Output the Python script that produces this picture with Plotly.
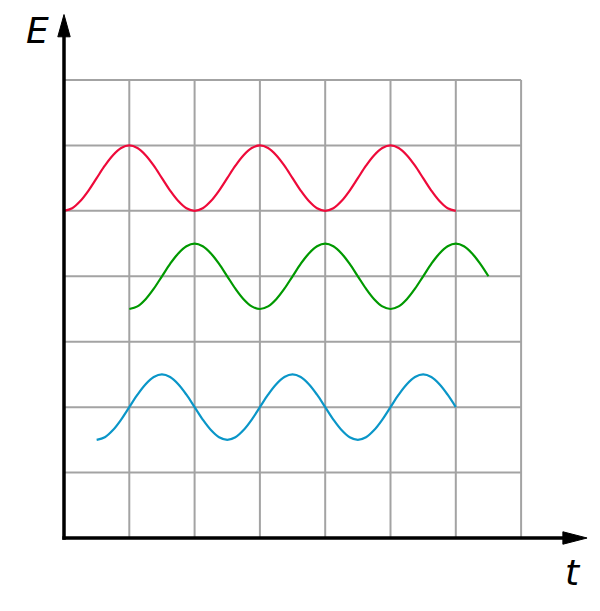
import plotly.graph_objects as go

# Data (grid units), values read every 1/8 of a grid cell
red_x = [i * 0.125 for i in range(0, 49)]
red_y = [5, 5.04, 5.15, 5.31, 5.5, 5.69, 5.85, 5.96, 6, 5.96, 5.85, 5.69, 5.5, 5.31, 5.15, 5.04,
         5, 5.04, 5.15, 5.31, 5.5, 5.69, 5.85, 5.96, 6, 5.96, 5.85, 5.69, 5.5, 5.31, 5.15, 5.04,
         5, 5.04, 5.15, 5.31, 5.5, 5.69, 5.85, 5.96, 6, 5.96, 5.85, 5.69, 5.5, 5.31, 5.15, 5.04,
         5]

green_x = [1 + i * 0.125 for i in range(0, 45)]
green_y = [3.5, 3.54, 3.65, 3.81, 4, 4.19, 4.35, 4.46, 4.5, 4.46, 4.35, 4.19, 4, 3.81, 3.65, 3.54,
           3.5, 3.54, 3.65, 3.81, 4, 4.19, 4.35, 4.46, 4.5, 4.46, 4.35, 4.19, 4, 3.81, 3.65, 3.54,
           3.5, 3.54, 3.65, 3.81, 4, 4.19, 4.35, 4.46, 4.5, 4.46, 4.35, 4.19, 4]

blue_x = [0.5 + i * 0.125 for i in range(0, 45)]
blue_y = [1.5, 1.54, 1.65, 1.81, 2, 2.19, 2.35, 2.46, 2.5, 2.46, 2.35, 2.19, 2, 1.81, 1.65, 1.54,
          1.5, 1.54, 1.65, 1.81, 2, 2.19, 2.35, 2.46, 2.5, 2.46, 2.35, 2.19, 2, 1.81, 1.65, 1.54,
          1.5, 1.54, 1.65, 1.81, 2, 2.19, 2.35, 2.46, 2.5, 2.46, 2.35, 2.19, 2]

grid_ticks = [0, 1, 2, 3, 4, 5, 6, 7]

fig = go.Figure()
for xs, ys, col in [(red_x, red_y, "#ee0a3a"), (green_x, green_y, "#009900"), (blue_x, blue_y, "#0a96c8")]:
    fig.add_trace(go.Scatter(x=xs, y=ys, mode="lines", line=dict(color=col, width=2.2, shape="spline"),
                             hoverinfo="skip", showlegend=False))

shapes = []
for g in grid_ticks:
    shapes.append(dict(type="line", xref="x", yref="y", x0=g, x1=g, y0=0, y1=7,
                       line=dict(color="#a3a3a3", width=2), layer="below"))
    shapes.append(dict(type="line", xref="x", yref="y", x0=0, x1=7, y0=g, y1=g,
                       line=dict(color="#a3a3a3", width=2), layer="below"))
# axes
shapes.append(dict(type="line", xref="x", yref="y", x0=-0.025, x1=7.7, y0=0, y1=0,
                   line=dict(color="black", width=3.5)))
shapes.append(dict(type="line", xref="x", yref="y", x0=0, x1=0, y0=-0.025, y1=7.7,
                   line=dict(color="black", width=3.5)))
# arrowheads
shapes.append(dict(type="path", xref="x", yref="y",
                   path="M 7.64 -0.095 L 8.01 0 L 7.64 0.095 Z",
                   fillcolor="black", line=dict(color="black", width=1)))
shapes.append(dict(type="path", xref="x", yref="y",
                   path="M -0.095 7.66 L 0 8.0 L 0.095 7.66 Z",
                   fillcolor="black", line=dict(color="black", width=1)))

# page body has an 8px offset; the plot area covers the whole figure
X_RANGE = [-56 / 65.3, (600 - 56) / 65.3]
Y_RANGE = [(530 - 611) / 65.43, 530 / 65.43]

fig.update_layout(
    width=600, height=611,
    margin=dict(l=0, r=0, t=0, b=0),
    paper_bgcolor="white", plot_bgcolor="white",
    xaxis=dict(range=X_RANGE, visible=False, fixedrange=True),
    yaxis=dict(range=Y_RANGE, visible=False, fixedrange=True),
    shapes=shapes,
    annotations=[
        dict(text="E", xref="x", yref="y", x=-0.4, y=7.76, showarrow=False,
             font=dict(family="DejaVu Sans", size=36, color="black", style="italic")),
        dict(text="t", xref="x", yref="y", x=7.8, y=-0.52, showarrow=False,
             font=dict(family="DejaVu Sans", size=36, color="black", style="italic")),
    ],
)

fig.write_html("out.html")
